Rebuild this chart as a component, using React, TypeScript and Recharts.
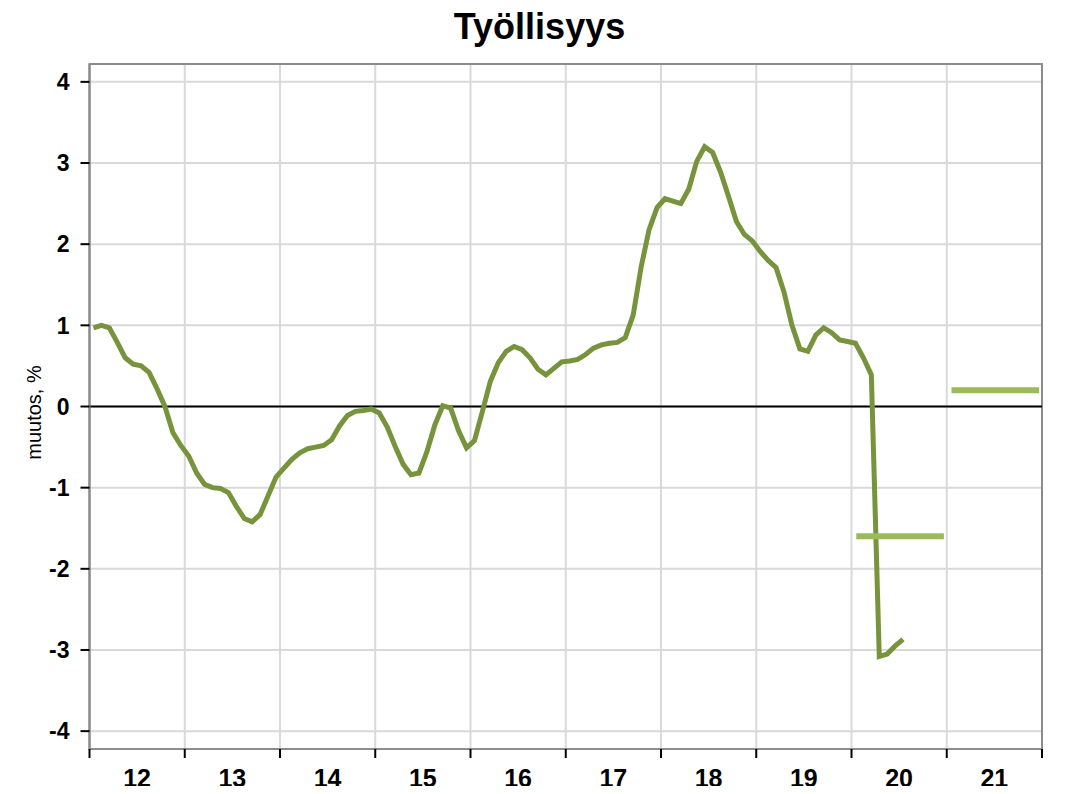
import React from 'react';
import {
  ComposedChart,
  Line,
  XAxis,
  YAxis,
  CartesianGrid,
  ReferenceLine,
  ReferenceArea,
} from 'recharts';

// Monthly employment change, % (year-on-year), starting January 2012
const startYear = 2012;
const values2012 = [0.97, 1.0, 0.97, 0.79, 0.6, 0.52, 0.5, 0.42, 0.22, 0.0, -0.32, -0.48];
const values2013 = [-0.61, -0.82, -0.96, -1.0, -1.01, -1.06, -1.23, -1.38, -1.42, -1.33, -1.1, -0.87];
const values2014 = [-0.76, -0.65, -0.57, -0.52, -0.5, -0.48, -0.41, -0.24, -0.11, -0.06, -0.05, -0.03];
const values2015 = [-0.08, -0.25, -0.49, -0.71, -0.84, -0.82, -0.56, -0.23, 0.01, -0.02, -0.3, -0.51];
const values2016 = [-0.42, -0.06, 0.31, 0.54, 0.68, 0.74, 0.7, 0.6, 0.46, 0.39, 0.47, 0.55];
const values2017 = [0.56, 0.58, 0.64, 0.72, 0.76, 0.78, 0.79, 0.85, 1.13, 1.72, 2.18, 2.45];
const values2018 = [2.56, 2.53, 2.5, 2.68, 3.02, 3.2, 3.13, 2.89, 2.59, 2.28, 2.12, 2.04];
const values2019 = [1.91, 1.8, 1.71, 1.41, 1.0, 0.71, 0.68, 0.88, 0.97, 0.91, 0.82, 0.8];
const values2020 = [0.78, 0.6, 0.39, -3.08, -3.05, -2.95, -2.87];

// Annual forecasts
const forecastYears = [2020, 2021];
const forecastValues = [-1.6, 0.2];

const yearTicks = [2012, 2013, 2014, 2015, 2016, 2017, 2018, 2019, 2020, 2021, 2022];
const yearLabelTicks = [2012.5, 2013.5, 2014.5, 2015.5, 2016.5, 2017.5, 2018.5, 2019.5, 2020.5, 2021.5];
const yTicks = [-4, -3, -2, -1, 0, 1, 2, 3, 4];

const allMonthly = [
  ...values2012, ...values2013, ...values2014, ...values2015, ...values2016,
  ...values2017, ...values2018, ...values2019, ...values2020,
];
const monthlyData = allMonthly.map((v, i) => ({ x: startYear + (i + 0.5) / 12, v }));
const forecastSegments = forecastYears.map((yr, i) => [
  { x: yr + 0.05, v: forecastValues[i] },
  { x: yr + 0.97, v: forecastValues[i] },
]);

const FONT = 'Liberation Sans, Arial, sans-serif';

export default function App() {
  return (
    <div style={{ position: 'relative', width: 1055, height: 778, fontFamily: FONT }}>
      <div
        style={{
          position: 'absolute',
          left: 0,
          top: 1,
          width: 1063,
          textAlign: 'center',
          fontSize: 36,
          lineHeight: '36px',
          fontWeight: 'bold',
          color: '#000',
        }}
      >
        Työllisyys
      </div>
      <ComposedChart
        width={1055}
        height={786}
        margin={{ top: 56, right: 21, left: 0, bottom: 0 }}
        style={{ position: 'absolute', left: 0, top: 0 }}
      >
        <CartesianGrid stroke="#d9d9d9" strokeWidth={2} />
        <XAxis
          type="number"
          dataKey="x"
          domain={[2012, 2022]}
          ticks={yearTicks}
          allowDataOverflow
          height={10}
          tickSize={9}
          tickFormatter={() => ''}
          axisLine={{ stroke: '#8c8c8c', strokeWidth: 2 }}
          tickLine={{ stroke: '#000', strokeWidth: 2 }}
        />
        <XAxis
          xAxisId="lbl"
          type="number"
          dataKey="x"
          domain={[2012, 2022]}
          ticks={yearLabelTicks}
          allowDataOverflow
          height={35}
          tickSize={0}
          tickMargin={10}
          axisLine={false}
          tickLine={false}
          tickFormatter={(y: number) => String(Math.floor(y) % 100)}
          tick={{ fill: '#000', fontSize: 25, fontWeight: 'bold', fontFamily: FONT }}
        />
        <YAxis
          type="number"
          domain={[-4.22, 4.22]}
          ticks={yTicks}
          allowDataOverflow
          width={81.5}
          tickSize={9}
          tickMargin={11}
          axisLine={{ stroke: '#8c8c8c', strokeWidth: 2 }}
          tickLine={{ stroke: '#000', strokeWidth: 2 }}
          tick={{ fill: '#000', fontSize: 23, fontWeight: 'bold', fontFamily: FONT }}
          label={{
            content: (props: any) => {
              const vb = props.viewBox || { x: 0, y: 56, width: 81.5, height: 685 };
              const cx = vb.x + 26;
              const cy = vb.y + vb.height / 2 + 6;
              return (
                <text
                  x={cx}
                  y={cy}
                  transform={`rotate(-90 ${cx} ${cy})`}
                  textAnchor="middle"
                  dominantBaseline="central"
                  style={{ fontSize: 20, fontFamily: FONT }}
                  fill="#000"
                >
                  muutos, %
                </text>
              );
            },
          }}
        />
        <ReferenceArea
          x1={2012}
          x2={2022}
          y1={-4.22}
          y2={4.22}
          fill="none"
          stroke="#8c8c8c"
          strokeWidth={2}
          ifOverflow="visible"
        />
        <ReferenceLine y={0} stroke="#000" strokeWidth={2} />
        <Line
          data={monthlyData}
          dataKey="v"
          type="linear"
          stroke="#77933C"
          strokeWidth={5}
          dot={false}
          isAnimationActive={false}
        />
        {forecastSegments.map((seg, i) => (
          <Line
            key={i}
            data={seg}
            dataKey="v"
            type="linear"
            stroke="#9BBB59"
            strokeWidth={6}
            strokeLinecap="butt"
            dot={false}
            isAnimationActive={false}
          />
        ))}
      </ComposedChart>
    </div>
  );
}
